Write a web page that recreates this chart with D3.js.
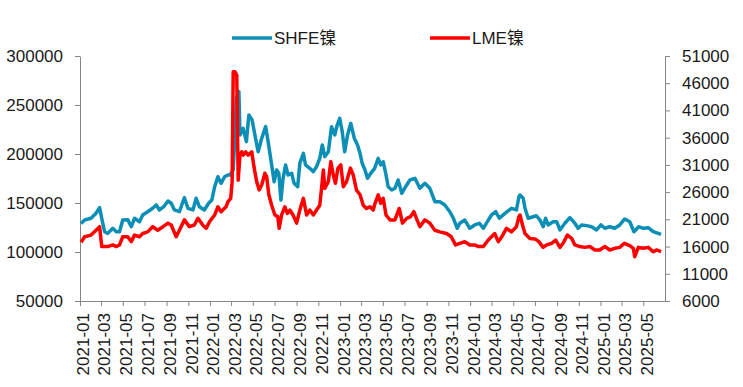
<!DOCTYPE html>
<html>
<head>
<meta charset="utf-8">
<script src="https://cdn.jsdelivr.net/npm/d3@7"></script>
<style>
  html, body { margin:0; padding:0; background:#fff; }
  svg text { font-family:"Liberation Sans","Noto Sans CJK SC",sans-serif; fill:#1a1a1a; }
</style>
</head>
<body>
<svg id="chart"></svg>
<script>
// SHFE nickel, yuan/t (left axis)
const shfe = [
  ["2021-01-04",129000],["2021-01-14",132600],["2021-02-01",134400],["2021-02-15",139500],
  ["2021-02-25",145200],["2021-03-03",134400],["2021-03-11",120700],["2021-03-20",119000],
  ["2021-04-03",124200],["2021-04-13",120700],["2021-04-22",120700],["2021-05-01",132600],
  ["2021-05-15",133000],["2021-05-25",125800],["2021-06-03",134400],["2021-06-17",130900],
  ["2021-06-26",137800],["2021-07-10",141100],["2021-07-24",144600],["2021-08-03",148000],
  ["2021-08-12",142900],["2021-08-24",146200],["2021-09-05",152000],["2021-09-14",149700],
  ["2021-09-23",142900],["2021-10-07",141100],["2021-10-21",155400],["2021-10-31",144600],
  ["2021-11-14",142900],["2021-11-23",154800],["2021-12-02",146200],["2021-12-16",142900],
  ["2021-12-28",149700],["2022-01-06",153000],["2022-01-14",166600],["2022-01-23",176800],
  ["2022-02-01",170100],["2022-02-11",176800],["2022-02-20",178600],["2022-02-26",178600],
  ["2022-03-07",183700],["2022-03-12",219400],["2022-03-16",256800],["2022-03-23",263600],
  ["2022-03-26",219400],["2022-04-04",226200],["2022-04-13",212600],["2022-04-20",239800],
  ["2022-04-29",234700],["2022-05-07",219400],["2022-05-16",202300],["2022-05-26",216000],
  ["2022-06-06",227900],["2022-06-13",212600],["2022-06-23",188800],["2022-06-30",171700],
  ["2022-07-07",183700],["2022-07-13",180300],["2022-07-19",153000],["2022-07-25",175200],
  ["2022-08-01",188800],["2022-08-08",178600],["2022-08-18",180300],["2022-08-25",170100],
  ["2022-09-04",166600],["2022-09-10",190500],["2022-09-20",200700],["2022-09-26",188800],
  ["2022-10-08",185400],["2022-10-18",182000],["2022-10-27",187100],["2022-11-05",195600],
  ["2022-11-12",209200],["2022-11-19",197300],["2022-11-29",202300],["2022-12-08",227900],
  ["2022-12-17",219400],["2022-12-24",229600],["2022-12-31",236400],["2023-01-07",222800],
  ["2023-01-14",202300],["2023-01-22",219400],["2023-01-31",231300],["2023-02-10",216000],
  ["2023-02-19",209200],["2023-02-26",200700],["2023-03-04",190500],["2023-03-12",183700],
  ["2023-03-19",175200],["2023-03-28",180300],["2023-04-08",185400],["2023-04-18",195600],
  ["2023-04-25",188800],["2023-05-02",192100],["2023-05-10",178600],["2023-05-16",166600],
  ["2023-05-26",163300],["2023-06-04",165000],["2023-06-13",173500],["2023-06-23",159900],
  ["2023-07-07",168400],["2023-07-16",173500],["2023-07-30",175200],["2023-08-13",165000],
  ["2023-08-27",170100],["2023-09-10",165000],["2023-09-24",151300],["2023-10-08",151300],
  ["2023-10-22",148000],["2023-11-05",141100],["2023-11-15",134400],["2023-11-26",124200],
  ["2023-12-03",129300],["2023-12-17",132600],["2023-12-31",124200],["2024-01-14",127600],
  ["2024-01-27",129300],["2024-02-07",124200],["2024-02-21",132600],["2024-03-01",137800],
  ["2024-03-13",141100],["2024-03-23",134400],["2024-04-03",137800],["2024-04-14",141100],
  ["2024-04-26",144600],["2024-05-10",142900],["2024-05-17",156400],["2024-05-20",158200],
  ["2024-05-29",154800],["2024-06-03",144600],["2024-06-12",134400],["2024-06-26",136000],
  ["2024-07-05",137000],["2024-07-15",132600],["2024-07-24",125800],["2024-07-31",134400],
  ["2024-08-07",127600],["2024-08-21",130900],["2024-08-31",130900],["2024-09-09",122500],
  ["2024-09-23",129300],["2024-10-07",135000],["2024-10-21",129300],["2024-10-30",124200],
  ["2024-11-09",127600],["2024-11-23",126900],["2024-12-07",125800],["2024-12-21",122500],
  ["2025-01-02",127600],["2025-01-13",124200],["2025-01-27",125800],["2025-02-10",124200],
  ["2025-02-24",127600],["2025-03-10",133700],["2025-03-24",130900],["2025-04-05",120700],
  ["2025-04-18",125800],["2025-05-01",124200],["2025-05-15",124800],["2025-05-29",120700],
  ["2025-06-12",119000],["2025-06-20",118000]
];

// LME nickel, $/t (right axis)
const lme = [
  ["2021-01-04",16800],["2021-01-14",17800],["2021-02-01",18100],["2021-02-15",19000],
  ["2021-02-25",19650],["2021-03-03",16000],["2021-03-20",16000],["2021-04-03",16300],
  ["2021-04-13",16000],["2021-04-22",16300],["2021-05-01",17800],["2021-05-15",17800],
  ["2021-05-25",16900],["2021-06-03",18100],["2021-06-17",17800],["2021-06-26",18400],
  ["2021-07-10",18700],["2021-07-24",19650],["2021-08-07",19000],["2021-08-22",19650],
  ["2021-09-05",20300],["2021-09-14",19960],["2021-09-28",17800],["2021-10-07",19000],
  ["2021-10-21",20900],["2021-11-04",19650],["2021-11-18",19960],["2021-11-28",21200],
  ["2021-12-12",19900],["2021-12-21",19350],["2021-12-31",20600],["2022-01-14",21800],
  ["2022-01-23",23300],["2022-02-01",22400],["2022-02-15",23300],["2022-02-20",24200],
  ["2022-02-28",24860],["2022-03-04",27900],["2022-03-07",48100],["2022-03-12",48100],
  ["2022-03-17",47500],["2022-03-21",28200],["2022-03-26",32800],["2022-03-31",33400],
  ["2022-04-04",32800],["2022-04-11",33400],["2022-04-18",32800],["2022-04-28",33400],
  ["2022-05-05",30400],["2022-05-12",27900],["2022-05-19",26400],["2022-05-26",27300],
  ["2022-06-04",29460],["2022-06-09",28830],["2022-06-15",25500],["2022-06-23",23600],
  ["2022-07-02",21800],["2022-07-10",21500],["2022-07-14",19350],["2022-07-21",21800],
  ["2022-07-30",23300],["2022-08-06",22100],["2022-08-13",22700],["2022-08-22",21800],
  ["2022-09-01",20300],["2022-09-10",22700],["2022-09-20",24860],["2022-09-29",21800],
  ["2022-10-08",22700],["2022-10-18",21800],["2022-10-27",22700],["2022-11-05",23600],
  ["2022-11-10",26700],["2022-11-15",30060],["2022-11-19",26700],["2022-11-29",27900],
  ["2022-12-06",31600],["2022-12-13",29140],["2022-12-19",27620],["2022-12-26",30400],
  ["2023-01-03",31000],["2023-01-10",27000],["2023-01-19",27900],["2023-01-30",30400],
  ["2023-02-07",29140],["2023-02-16",26400],["2023-02-26",25500],["2023-03-07",23600],
  ["2023-03-16",23000],["2023-03-26",23300],["2023-04-04",22700],["2023-04-09",23900],
  ["2023-04-18",25500],["2023-04-25",23950],["2023-05-02",24860],["2023-05-10",21800],
  ["2023-05-21",20900],["2023-06-04",20900],["2023-06-16",23000],["2023-06-25",20300],
  ["2023-07-07",21190],["2023-07-18",21500],["2023-07-27",22400],["2023-08-05",20900],
  ["2023-08-13",19650],["2023-08-27",20900],["2023-09-10",20300],["2023-09-24",19000],
  ["2023-10-08",18700],["2023-10-27",18400],["2023-11-09",17800],["2023-11-21",16300],
  ["2023-12-03",16600],["2023-12-17",16900],["2023-12-31",16300],["2024-01-14",16300],
  ["2024-01-24",16000],["2024-02-07",16000],["2024-02-21",17200],["2024-03-10",18400],
  ["2024-03-20",16900],["2024-03-30",17800],["2024-04-12",19350],["2024-04-26",18700],
  ["2024-05-10",19650],["2024-05-17",21500],["2024-05-20",21800],["2024-05-27",19960],
  ["2024-06-03",18400],["2024-06-17",17500],["2024-07-01",17400],["2024-07-12",16900],
  ["2024-07-24",15850],["2024-08-03",16300],["2024-08-17",16600],["2024-08-28",17200],
  ["2024-09-09",15850],["2024-09-18",16600],["2024-09-30",18100],["2024-10-12",17500],
  ["2024-10-21",16300],["2024-11-04",16000],["2024-11-18",15850],["2024-12-02",16000],
  ["2024-12-16",15370],["2024-12-30",15370],["2025-01-13",16000],["2025-01-27",15370],
  ["2025-02-10",15680],["2025-02-24",15850],["2025-03-09",16600],["2025-03-24",16160],
  ["2025-04-03",15680],["2025-04-07",14140],["2025-04-17",15850],["2025-05-01",15680],
  ["2025-05-15",15850],["2025-05-29",15050],["2025-06-07",15370],["2025-06-20",15050]
];

const leftTicks = [50000,100000,150000,200000,250000,300000];
const rightTicks = [6000,11000,16000,21000,26000,31000,36000,41000,46000,51000];
const xTicks = [
  "2021-01","2021-03","2021-05","2021-07","2021-09","2021-11",
  "2022-01","2022-03","2022-05","2022-07","2022-09","2022-11",
  "2023-01","2023-03","2023-05","2023-07","2023-09","2023-11",
  "2024-01","2024-03","2024-05","2024-07","2024-09","2024-11",
  "2025-01","2025-03","2025-05"
];
const xDomain = ["2021-01","2025-07"];

const COLORS = {
  shfe:"#0c8fb6",
  lme:"#ff0000",
  axis:"#868686"
};

const W = 743;
const H = 387;

const margin = {
  top:56,
  right:78,
  bottom:86,
  left:80
};

const innerW = W - margin.left - margin.right;
const innerH = H - margin.top - margin.bottom;

const parseDay = d3.timeParse("%Y-%m-%d");
const parseMonth = d3.timeParse("%Y-%m");

const svg = d3.select("#chart")
  .attr("width",W)
  .attr("height",H)
  .attr("viewBox",`0 0 ${W} ${H}`);

svg.append("rect")
  .attr("width",W)
  .attr("height",H)
  .attr("fill","#fff");

const g = svg.append("g")
  .attr("transform",`translate(${margin.left},${margin.top})`);

const x = d3.scaleTime()
  .domain(xDomain.map(parseMonth))
  .range([0,innerW]);

const yL = d3.scaleLinear()
  .domain([50000,300000])
  .range([innerH,0]);

const yR = d3.scaleLinear()
  .domain([6000,51000])
  .range([innerH,0]);

function styleAxis(sel){
  sel.select(".domain").attr("stroke",COLORS.axis);
  sel.selectAll(".tick line").attr("stroke",COLORS.axis);
  sel.selectAll(".tick text").attr("font-size",17).attr("fill","#1a1a1a");
}

// left axis
g.append("g")
  .call(
    d3.axisLeft(yL)
      .tickValues(leftTicks)
      .tickSize(5)
      .tickSizeOuter(0)
      .tickPadding(12)
      .tickFormat(d3.format("d"))
  )
  .call(styleAxis);

// right axis
g.append("g")
  .attr("transform",`translate(${innerW},0)`)
  .call(
    d3.axisRight(yR)
      .tickValues(rightTicks)
      .tickSize(5)
      .tickSizeOuter(0)
      .tickPadding(12)
      .tickFormat(d3.format("d"))
  )
  .call(styleAxis);

// bottom axis
const xa = g.append("g")
  .attr("transform",`translate(0,${innerH})`)
  .call(
    d3.axisBottom(x)
      .tickValues(xTicks.map(parseMonth))
      .tickSize(5)
      .tickSizeOuter(0)
      .tickFormat(d3.timeFormat("%Y-%m"))
  )
  .call(styleAxis);

xa.selectAll(".tick text")
  .attr("transform","rotate(-90)")
  .attr("text-anchor","end")
  .attr("x",-12)
  .attr("y",3)
  .attr("dy","0.35em");

const lineL = d3.line()
  .x(d=>x(parseDay(d[0])))
  .y(d=>yL(d[1]));

const lineR = d3.line()
  .x(d=>x(parseDay(d[0])))
  .y(d=>yR(d[1]));

g.append("path")
  .datum(shfe)
  .attr("d",lineL)
  .attr("fill","none")
  .attr("stroke",COLORS.shfe)
  .attr("stroke-width",3.5)
  .attr("stroke-linejoin","round");

g.append("path")
  .datum(lme)
  .attr("d",lineR)
  .attr("fill","none")
  .attr("stroke",COLORS.lme)
  .attr("stroke-width",3.5)
  .attr("stroke-linejoin","round");

// legend
const legend = [
  {name:"SHFE镍",color:COLORS.shfe,x:232},
  {name:"LME镍",color:COLORS.lme,x:430}
];

const lg = svg.selectAll(".legend")
  .data(legend)
  .join("g")
  .attr("class","legend")
  .attr("transform",d=>`translate(${d.x},38)`);

lg.append("line")
  .attr("x1",0)
  .attr("x2",40)
  .attr("stroke",d=>d.color)
  .attr("stroke-width",3.5);

lg.append("text")
  .attr("x",42)
  .attr("dy","0.35em")
  .attr("font-size",17)
  .text(d=>d.name);
</script>
</body>
</html>
